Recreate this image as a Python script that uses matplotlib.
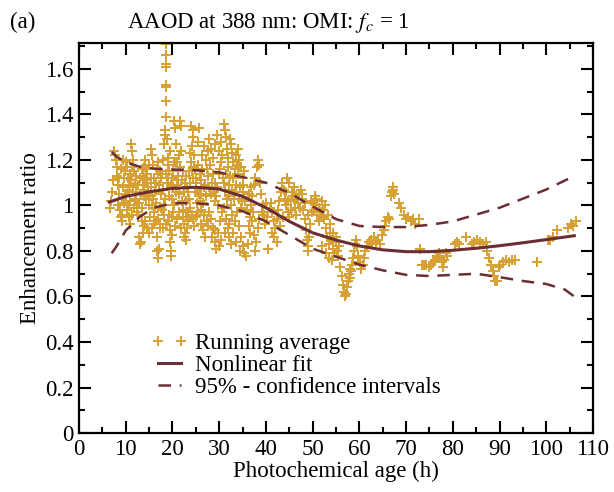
import matplotlib.pyplot as plt
from matplotlib.ticker import MultipleLocator

plt.rcParams["font.family"] = ["Liberation Serif", "DejaVu Serif"]
plt.rcParams["mathtext.fontset"] = "stix"

GOLD = "#d6a032"
MAROON = "#6b2f33"
FS = 16.5

# running average (photochemical age in h, enhancement ratio)
run_age = [
    6.6, 6.9, 7.1, 7.3, 7.5, 7.7, 7.9, 8.1, 8.2, 8.4, 8.5, 8.7, 8.9, 9.1, 9.3, 9.5, 9.7, 9.9,
    10.1, 10.3, 10.5, 10.7, 10.9, 11.1, 11.3, 11.5, 11.7, 11.9, 12.1, 12.3, 12.5, 12.7, 12.9,
    13.0, 13.2, 13.4, 13.5, 13.7, 13.9, 14.1, 14.3, 14.5, 14.7, 14.9, 15.1, 15.3, 15.5, 15.7,
    15.9, 16.1, 16.3, 16.4, 16.5, 16.6, 16.7, 16.9, 17.1, 17.3, 17.5, 17.6, 17.8, 17.9, 18.1,
    18.3, 18.5, 18.6, 18.6, 18.7, 18.7, 18.7, 18.7, 18.7, 18.7, 18.9, 19.0, 19.1, 19.2, 19.3,
    19.4, 19.5, 19.6, 19.7, 19.9, 20.1, 20.2, 20.3, 20.4, 20.6, 20.8, 21.0, 21.2, 21.4, 21.7,
    21.9, 22.1, 22.3, 22.5, 22.7, 22.9, 23.1, 23.3, 23.5, 23.7, 23.9, 24.1, 24.3, 24.5, 24.7,
    24.9, 25.1, 25.3, 25.5, 25.6, 25.8, 26.0,
    9.2, 9.6, 10.0, 10.4, 10.8, 11.2, 11.6, 12.0, 12.4, 12.8, 13.2, 13.6, 14.0, 14.4, 14.8,
    15.2, 15.6, 16.0, 16.4, 16.8, 17.2, 17.6, 18.0, 18.4, 18.8, 19.2, 19.6, 20.0, 20.4, 20.8,
    21.2, 21.6, 22.0, 22.4, 22.8, 23.2, 23.6, 24.0, 24.4, 24.8, 25.2, 25.6, 26.0, 26.4, 26.8,
    27.2, 27.6, 28.0, 28.4, 28.8, 29.2, 29.6, 30.0, 30.4, 30.8, 31.2, 31.6, 32.0, 32.4, 32.8,
    33.2, 33.6, 34.0, 34.4, 34.8, 35.2,
    10.2, 10.6, 11.0, 11.4, 11.8, 14.2, 14.6, 15.0, 17.0, 17.4, 18.2, 18.6, 20.6, 21.0, 21.4,
    22.2, 23.4, 24.2, 24.6, 25.0, 26.2, 26.6, 27.0, 27.4, 27.8, 28.2, 28.6, 29.0, 29.4, 29.8,
    30.2, 30.6, 31.0, 31.4, 31.8, 32.2, 32.6, 33.0, 33.4, 33.8, 34.2, 34.6, 35.0, 35.4, 35.8,
    36.2, 36.6, 37.0, 37.4, 37.8, 38.2,
    26.3, 26.7, 27.1, 27.5, 27.9, 28.3, 28.7, 29.1, 29.5, 29.9, 30.3, 31.0, 31.2, 31.4, 31.6,
    31.8, 32.4, 32.6, 32.8, 33.0, 33.3, 33.6, 34.0, 34.3, 34.6, 35.0, 35.4,
    8.3, 8.6, 9.0, 9.4, 9.8, 10.6, 11.0, 11.4, 12.2, 12.6, 13.0, 13.4, 13.8, 14.2, 14.6, 15.0,
    15.4, 15.8, 16.2, 16.6, 17.0, 17.4, 17.8, 18.2, 18.6, 19.0, 19.4, 19.8, 20.2, 20.6, 21.0,
    21.4, 21.8, 22.2, 22.6, 23.0, 23.4, 23.8, 24.2, 24.6, 25.0, 25.4, 25.8, 26.2, 26.6, 27.0,
    27.4, 27.8, 28.2, 28.6, 29.0, 29.4, 29.8, 30.2, 30.6, 31.0, 31.4, 31.8, 32.2, 32.6, 33.0,
    33.4, 33.8, 34.2, 34.6, 35.0, 35.6, 36.0, 36.4, 36.8,
    13.6, 14.0, 15.6, 16.0, 18.0, 19.0, 19.8, 21.8, 22.4, 23.0, 23.8, 24.4, 25.4, 26.8, 27.6,
    28.4, 29.2, 30.0, 30.4, 31.2, 32.0, 32.8, 33.6, 34.4, 36.4, 37.2, 37.6, 38.6, 39.2, 40.0,
    36.5, 36.8, 37.1, 37.4, 37.7, 38.0, 38.3, 38.5, 38.8, 39.0, 39.3, 39.6, 39.9, 40.2, 40.5,
    40.8, 41.1, 41.4, 41.7, 42.0, 42.3, 42.6, 42.9, 43.2, 43.5, 43.8, 44.1, 44.4, 44.7, 45.0,
    45.3, 45.6, 45.9, 46.2, 46.5, 46.8, 47.1,
    41.2, 41.8, 42.4, 43.0, 43.6, 44.2, 44.6, 44.8, 45.0, 45.4, 46.0, 46.6, 47.2, 47.8, 48.4,
    49.0, 49.6, 50.2, 50.8, 51.4, 52.0, 52.6, 53.2, 53.8, 54.4, 55.0, 55.6, 52.0, 52.8, 53.5,
    54.2,
    47.4, 47.7, 48.0, 48.3, 48.5, 48.7, 48.9, 49.1, 49.3, 49.5, 49.8, 50.1, 50.4, 50.7, 51.0,
    51.3, 51.6, 51.9, 52.2, 52.5, 52.8, 53.1, 53.4, 53.7, 54.0, 54.3, 54.6, 54.9, 55.2, 55.5,
    55.9, 56.2, 56.5, 56.7, 56.9, 57.1, 57.3, 57.5, 57.7, 57.9, 58.1, 58.3, 58.5, 58.7, 58.9,
    59.1, 59.3, 59.5, 59.8, 60.1, 60.4, 60.7, 61.0, 61.3, 61.6,
    62.0, 62.4, 62.8, 63.2, 63.6, 64.0, 64.4, 64.8, 65.2, 65.5, 65.8, 66.1, 66.4, 66.7, 66.9,
    67.1, 67.3, 67.5, 68.5, 69.0, 69.5, 70.0, 70.5, 71.0, 71.5, 72.0, 72.7,
    73.0, 73.3, 73.8, 74.3, 74.8, 75.3, 75.8, 76.2, 76.6, 77.0, 77.3, 77.6, 77.9, 78.2, 78.5,
    78.8, 80.5, 80.9, 81.3, 82.9, 84.0, 84.6, 85.2, 85.8, 86.4, 87.0,
    87.4, 87.8, 88.2, 88.5, 88.8, 89.1, 89.5, 89.8, 90.2, 90.8, 91.4, 92.0, 92.6, 93.2, 98.0,
    100.3, 100.9, 101.5, 102.4, 104.6, 105.3, 105.8, 106.4,
]
run_ratio = [
    0.99, 1.02, 1.06, 1.11, 1.24, 1.22, 1.20, 1.17, 1.13, 1.09, 1.05, 0.98, 0.95, 0.93, 0.96,
    1.08, 1.12, 1.15, 1.19, 1.17, 1.12, 1.06, 1.02, 1.27, 1.24, 1.20, 1.15, 1.10, 1.06, 1.03,
    0.99, 0.96, 0.86, 0.83, 0.84, 0.93, 0.99, 1.13, 1.17, 1.20, 1.16, 1.10, 1.05, 1.00, 0.95,
    1.12, 1.25, 1.22, 1.18, 1.12, 1.06, 1.01, 0.93, 0.86, 0.80, 0.77, 0.81, 0.90, 0.99, 1.05,
    1.14, 1.20, 1.27, 1.31, 1.33, 1.39, 1.46, 1.52, 1.53, 1.61, 1.62, 1.66, 1.71, 1.29, 1.21,
    1.12, 1.04, 0.96, 0.89, 0.84, 0.80, 0.78, 0.87, 0.97, 1.08, 1.19, 1.37, 1.34, 1.27, 1.19,
    1.11, 1.05, 1.37, 1.35, 1.02, 0.98, 0.92, 0.88, 0.85, 0.90, 0.97, 1.03, 1.10, 1.35, 1.15,
    1.33, 1.30, 1.22, 1.16, 1.10, 1.06, 1.28, 1.34, 1.02, 0.98,
    1.03, 1.01, 1.04, 1.07, 1.09, 1.11, 1.08, 1.02, 0.97, 1.01, 1.05, 1.09, 1.07, 1.03, 1.08,
    1.04, 1.00, 0.97, 1.10, 1.14, 1.09, 1.12, 1.07, 1.03, 1.10, 1.15, 1.09, 1.03, 1.00, 1.06,
    1.13, 1.17, 1.11, 1.06, 1.02, 1.08, 1.15, 1.19, 1.12, 1.06, 1.01, 1.05, 1.11, 1.16, 1.08,
    1.04, 1.13, 1.18, 1.10, 1.06, 1.02, 1.08, 1.14, 1.19, 1.12, 1.07, 1.03, 1.09, 1.13, 1.07,
    1.03, 1.09, 1.14, 1.08, 1.02, 1.06,
    0.98, 0.95, 0.92, 0.96, 0.99, 0.93, 0.90, 0.88, 0.94, 0.92, 0.96, 0.92, 0.91, 0.94, 0.97,
    0.95, 0.93, 0.96, 0.91, 0.95, 0.92, 0.89, 0.86, 0.93, 0.97, 0.94, 0.90, 0.84, 0.81, 0.88,
    0.93, 0.97, 0.99, 0.94, 0.90, 0.86, 0.83, 0.88, 0.93, 0.97, 0.91, 0.86, 0.82, 0.79, 0.78,
    0.83, 0.88, 0.93, 0.87, 0.84, 0.90,
    1.22, 1.26, 1.20, 1.24, 1.29, 1.25, 1.21, 1.27, 1.31, 1.24, 1.28, 1.36, 1.33, 1.30, 1.25,
    1.21, 1.29, 1.27, 1.23, 1.19, 1.16, 1.22, 1.25, 1.20, 1.17, 1.12, 1.15,
    1.00, 1.12, 1.16, 1.20, 1.05, 1.00, 1.14, 1.17, 1.13, 1.09, 1.12, 1.16, 1.04, 1.11, 1.14,
    1.18, 1.08, 1.03, 0.99, 1.16, 1.19, 1.15, 0.98, 1.00, 1.14, 1.18, 1.24, 1.12, 1.15, 1.19,
    1.09, 1.22, 1.24, 1.15, 1.10, 1.13, 1.06, 1.23, 1.26, 1.17, 1.12, 1.18, 1.14, 1.05, 1.01,
    1.09, 1.16, 1.08, 1.05, 1.14, 1.10, 1.04, 1.00, 1.16, 1.22, 1.10, 1.14, 1.17, 1.04, 1.00,
    1.12, 1.06, 1.18, 1.03, 0.99, 1.09, 1.02, 0.98, 1.05, 1.08,
    0.88, 0.91, 0.90, 0.92, 0.90, 0.93, 0.95, 0.90, 0.86, 0.95, 0.99, 0.94, 0.97, 0.96, 0.91,
    0.86, 0.89, 0.82, 0.85, 0.88, 0.92, 0.96, 0.84, 0.80, 0.91, 0.97, 0.80, 0.94, 0.97, 1.01,
    0.95, 1.00, 1.04, 1.09, 1.12, 1.17, 1.20, 1.18, 1.10, 1.05, 1.00, 0.96, 0.92, 0.95, 0.81,
    0.99, 1.01, 0.97, 0.93, 0.90, 0.94, 0.98, 1.02, 1.06, 1.10, 1.07, 1.03, 1.00, 0.97, 0.95,
    1.02, 1.06, 1.04, 0.99, 0.96, 1.01, 1.05,
    0.88, 0.86, 0.84, 0.91, 0.95, 1.06, 1.12, 1.02, 1.10, 0.98, 1.08, 1.03, 0.99, 1.05, 1.01,
    0.96, 1.02, 0.98, 1.03, 0.99, 0.95, 1.00, 0.96, 0.92, 0.88, 0.86, 0.82, 0.82, 0.79, 0.77,
    0.76,
    1.07, 1.03, 0.98, 0.94, 0.89, 0.85, 0.82, 0.80, 0.86, 0.92, 0.97, 1.01, 1.04, 1.00, 0.96,
    0.93, 0.97, 1.02, 0.98, 0.94, 0.90, 0.86, 0.83, 0.88, 0.85, 0.81, 0.79, 0.84, 0.80, 0.78,
    0.73, 0.69, 0.65, 0.62, 0.60, 0.61, 0.64, 0.67, 0.70, 0.72, 0.68, 0.71, 0.74, 0.77, 0.80,
    0.83, 0.85, 0.82, 0.78, 0.75, 0.72, 0.74, 0.77, 0.80, 0.82,
    0.84, 0.85, 0.83, 0.86, 0.84, 0.85, 0.83, 0.87, 0.89, 0.91, 0.93, 0.95, 0.94, 1.04, 1.06,
    1.08, 1.07, 1.05, 1.01, 0.99, 0.96, 0.94, 0.95, 0.93, 0.94, 0.92, 0.94,
    0.81, 0.74, 0.74, 0.74, 0.73, 0.74, 0.75, 0.76, 0.78, 0.79, 0.77, 0.75, 0.73, 0.76, 0.79,
    0.78, 0.83, 0.84, 0.83, 0.86, 0.83, 0.84, 0.85, 0.84, 0.83, 0.84,
    0.80, 0.77, 0.74, 0.71, 0.69, 0.67, 0.67, 0.73, 0.74, 0.75, 0.76, 0.75, 0.76, 0.76, 0.75,
    0.85, 0.85, 0.86, 0.89, 0.90, 0.92, 0.91, 0.93,
]

# nonlinear fit
fit_age = [6.5, 10, 15, 20, 25, 30, 35, 40, 45, 50, 55, 60, 65, 70, 75, 80, 85, 90, 95, 100, 106]
fit_ratio = [1.015, 1.04, 1.06, 1.075, 1.08, 1.072, 1.04, 0.99, 0.93, 0.88, 0.848, 0.822,
             0.805, 0.797, 0.797, 0.803, 0.812, 0.823, 0.836, 0.85, 0.867]

# 95 % confidence intervals
ci_age = [7, 8, 10, 13, 16, 20, 25, 30, 35, 40, 45, 50, 55, 60, 65, 70, 75, 80, 85, 90,
          95, 100, 104, 106]
ci_upper = [1.235, 1.215, 1.19, 1.17, 1.162, 1.158, 1.155, 1.145, 1.125, 1.1, 1.055, 0.995,
            0.94, 0.91, 0.905, 0.905, 0.915, 0.93, 0.96, 0.99, 1.03, 1.07, 1.11, 1.13]
ci_lower = [0.79, 0.82, 0.89, 0.95, 0.99, 1.01, 1.01, 1.0, 0.975, 0.93, 0.87, 0.81, 0.775,
            0.74, 0.715, 0.695, 0.69, 0.695, 0.70, 0.685, 0.668, 0.655, 0.63, 0.60]


def main():
    fig = plt.figure(figsize=(6.14, 4.92), dpi=100)
    ax = fig.add_axes([0.1287, 0.1199, 0.8371, 0.7927])

    ax.plot(run_age, run_ratio, "+", color=GOLD, ms=6.5, mew=1.4, label="Running average")
    ax.plot(fit_age, fit_ratio, "-", color=MAROON, lw=2.2, label="Nonlinear fit")
    ax.plot(ci_age, ci_upper, color=MAROON, lw=1.8, ls=(0, (5, 3.5)),
            label="95% - confidence intervals")
    ax.plot(ci_age, ci_lower, color=MAROON, lw=1.8, ls=(0, (5, 3.5)))

    ax.set_xlim(0, 110)
    ax.set_ylim(0, 1.714)
    ax.xaxis.set_major_locator(MultipleLocator(10))
    ax.xaxis.set_minor_locator(MultipleLocator(5))
    ax.yaxis.set_minor_locator(MultipleLocator(0.1))
    ax.set_yticks([0, 0.2, 0.4, 0.6, 0.8, 1.0, 1.2, 1.4, 1.6])
    ax.set_yticklabels(["0", "0.2", "0.4", "0.6", "0.8", "1", "1.2", "1.4", "1.6"])

    ax.tick_params(which="both", direction="in", top=True, right=True,
                   width=1.5, labelsize=FS, colors="black")
    ax.tick_params(which="major", length=8.5, pad=4)
    ax.tick_params(which="minor", length=4.5)
    for sp in ax.spines.values():
        sp.set_linewidth(1.6)

    ax.set_xlabel("Photochemical age (h)", fontsize=FS, labelpad=1)
    ax.set_ylabel("Enhancement ratio", fontsize=FS, labelpad=3)

    fig.text(0.016, 0.943, "(a)", fontsize=FS, va="baseline")
    fig.text(0.207, 0.943, "AAOD at 388 nm: OMI: $f_c$ = 1", fontsize=FS, va="baseline")

    ax.legend(loc="upper left", bbox_to_anchor=(0.14, 0.257), frameon=False,
              fontsize=FS, numpoints=2, handlelength=1.6, handletextpad=0.3,
              labelspacing=0.05, borderpad=0, borderaxespad=0)

    fig.savefig("out.png", dpi=100)


if __name__ == "__main__":
    main()
